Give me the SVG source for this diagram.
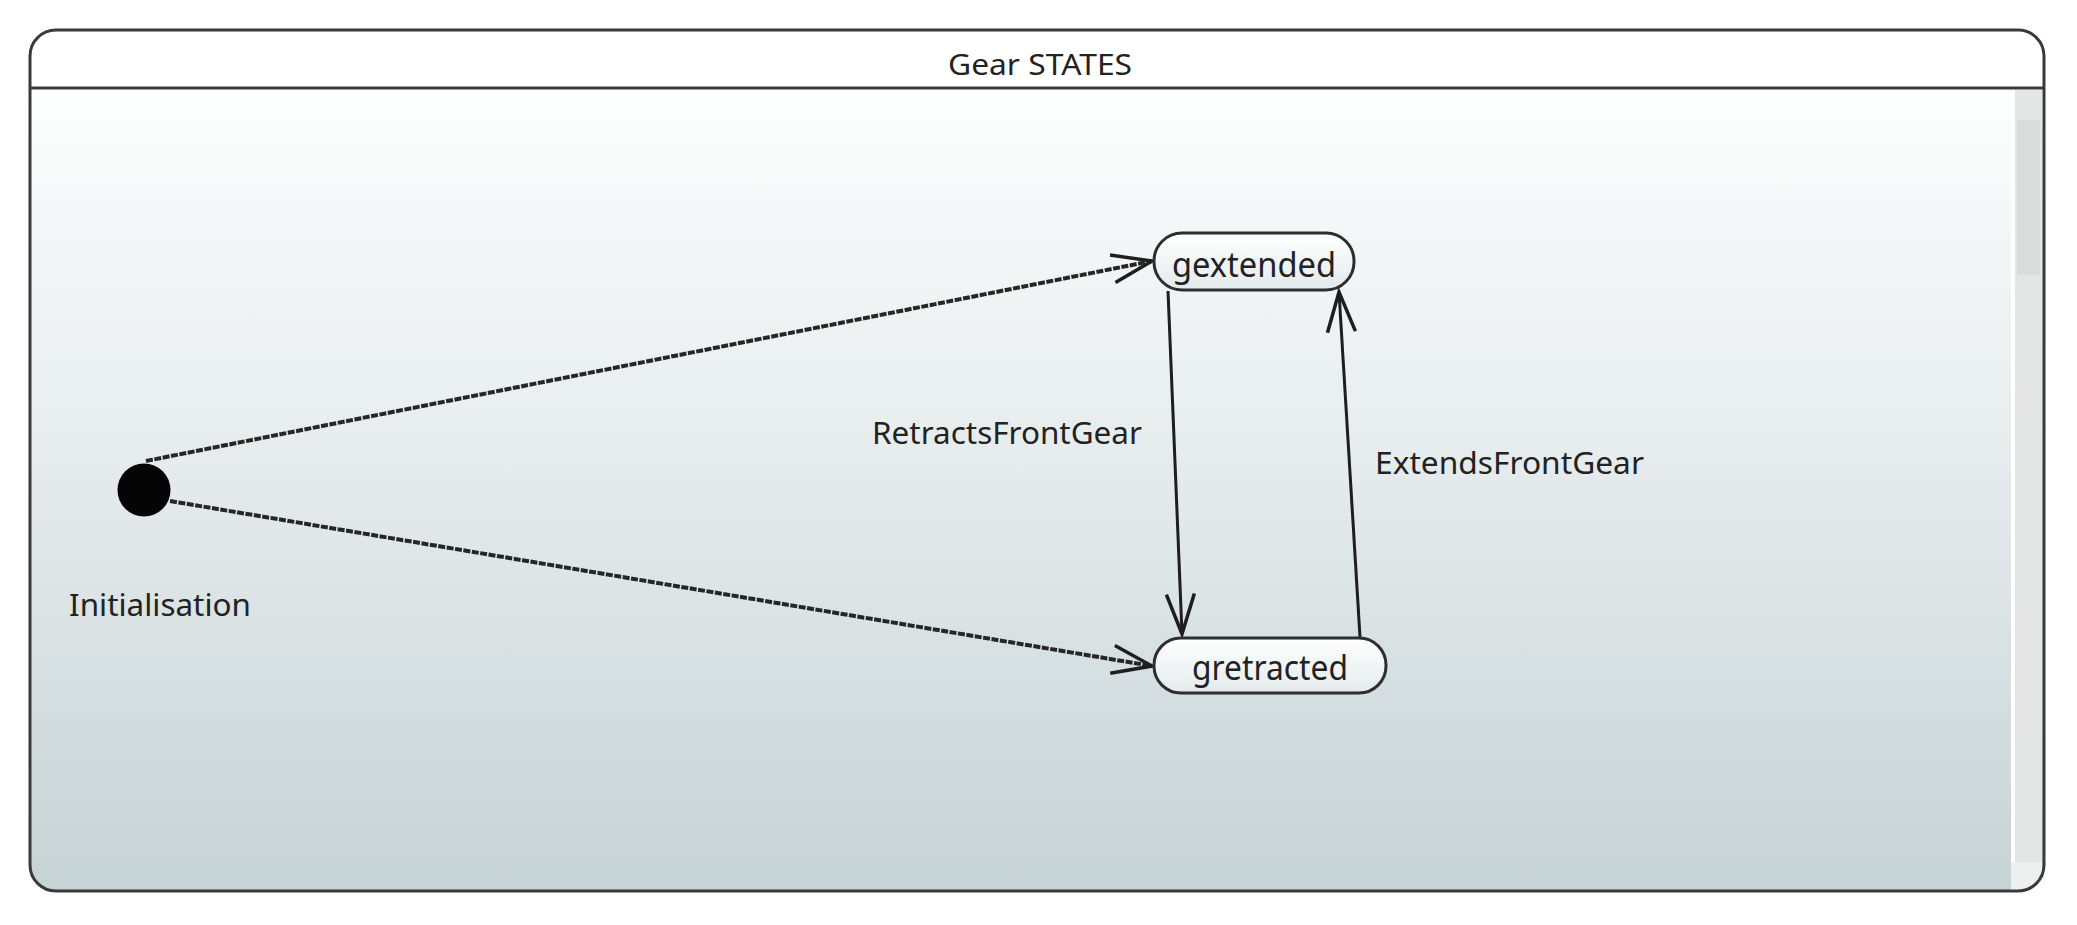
<svg xmlns="http://www.w3.org/2000/svg" width="2077" height="925" viewBox="0 0 2077 925">
  <defs>
    <linearGradient id="bg" x1="0" y1="88" x2="0" y2="890" gradientUnits="userSpaceOnUse">
      <stop offset="0" stop-color="#fdfefe"/>
      <stop offset="0.5" stop-color="#e4eaeb"/>
      <stop offset="1" stop-color="#c6d3d5"/>
    </linearGradient>
    <linearGradient id="nodefill" x1="0" y1="0" x2="0" y2="1">
      <stop offset="0" stop-color="#ffffff"/>
      <stop offset="1" stop-color="#e3eaec"/>
    </linearGradient>
    <clipPath id="frameclip">
      <rect x="30" y="30" width="2014" height="861" rx="26" ry="26"/>
    </clipPath>
    <marker id="open" markerUnits="userSpaceOnUse" markerWidth="50" markerHeight="40" refX="0" refY="0" viewBox="-45 -20 50 40" orient="auto">
      <path d="M -40 -14 L 0 0 L -40 14" fill="none" stroke="#1e1e1e" stroke-width="3.5" stroke-linejoin="miter"/>
    </marker>
  </defs>
  <style>
    .lbl { font-family: "Noto Sans", "Liberation Sans", sans-serif; fill: #222222; }
    .state { fill: url(#nodefill); stroke: #2e2e2e; stroke-width: 3; }
    .edge { fill: none; stroke: #1e1e1e; stroke-width: 3; marker-end: url(#open); }
    .init { stroke-width: 4; stroke: #262626; stroke-dasharray: 7 1.5; }
  </style>
  <rect x="0" y="0" width="2077" height="925" fill="#ffffff"/>

  <g id="frame">
    <g clip-path="url(#frameclip)">
      <rect x="30" y="30" width="2014" height="58" fill="#ffffff"/>
      <rect x="30" y="88" width="2014" height="803" fill="url(#bg)"/>
      <rect x="2011" y="90" width="4" height="775" fill="#ffffff"/>
      <rect x="2015" y="90" width="27" height="775" fill="#e4e5e5"/>
      <rect x="2017" y="120" width="23" height="155" fill="#dadcdc"/>
      <rect x="2011" y="862" width="31" height="29" fill="#eef0f0"/>
    </g>
    <rect x="30" y="30" width="2014" height="861" rx="26" ry="26" fill="none" stroke="#3a3a3a" stroke-width="3"/>
    <line x1="30" y1="88" x2="2044" y2="88" stroke="#3a3a3a" stroke-width="3"/>
    <text class="lbl" x="948" y="75" font-size="29" textLength="184" lengthAdjust="spacingAndGlyphs">Gear STATES</text>
  </g>

  <g id="connectors">
    <line class="edge init" x1="146" y1="461" x2="1152" y2="261"/>
    <line class="edge init" x1="170" y1="501" x2="1152" y2="666"/>
    <line class="edge" x1="1168" y1="291" x2="1182" y2="634"/>
    <line class="edge" x1="1360" y1="637" x2="1339" y2="292"/>
    <text class="lbl" x="872" y="444" font-size="31" textLength="270" lengthAdjust="spacingAndGlyphs">RetractsFrontGear</text>
    <text class="lbl" x="1375" y="474" font-size="31" textLength="269" lengthAdjust="spacingAndGlyphs">ExtendsFrontGear</text>
  </g>

  <g id="initial">
    <circle cx="144" cy="490" r="26.5" fill="#050505"/>
    <text class="lbl" x="69" y="616" font-size="30" textLength="182" lengthAdjust="spacingAndGlyphs">Initialisation</text>
  </g>

  <g id="gextended">
    <rect class="state" x="1154" y="233" width="200" height="57" rx="28" ry="28"/>
    <text class="lbl" x="1254" y="277" font-size="34" text-anchor="middle" textLength="164" lengthAdjust="spacingAndGlyphs">gextended</text>
  </g>

  <g id="gretracted">
    <rect class="state" x="1154" y="638" width="232" height="55" rx="27" ry="27"/>
    <text class="lbl" x="1270" y="680" font-size="34" text-anchor="middle" textLength="156" lengthAdjust="spacingAndGlyphs">gretracted</text>
  </g>
</svg>
